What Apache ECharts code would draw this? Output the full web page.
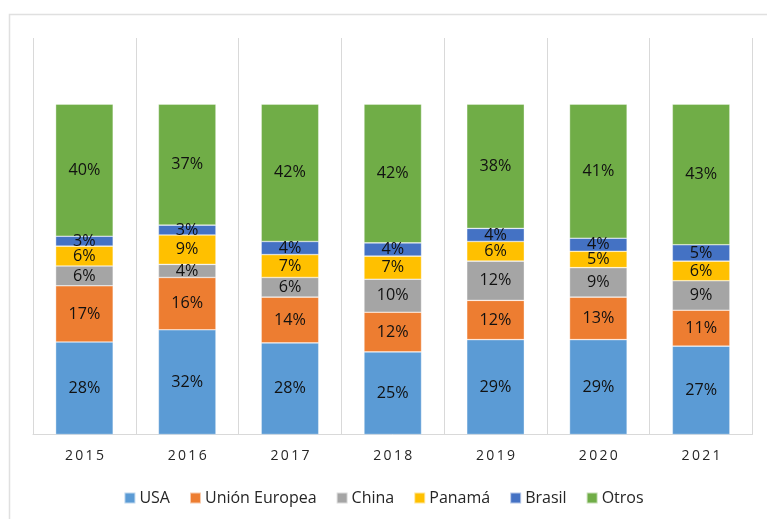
<!DOCTYPE html>
<html>
<head>
<meta charset="utf-8">
<script src="https://cdn.jsdelivr.net/npm/echarts@6/dist/echarts.min.js"></script>
<style>html,body{margin:0;padding:0;background:#fff}#c{width:767px;height:519px}</style>
</head>
<body>
<div id="c"></div>
<script>
const years = ['2015','2016','2017','2018','2019','2020','2021'];
const seriesNames = ['USA','Unión Europea','China','Panamá','Brasil','Otros'];
const usa     = [28, 32, 28, 25, 29, 29, 27];
const ue      = [17, 16, 14, 12, 12, 13, 11];
const china   = [6, 4, 6, 10, 12, 9, 9];
const panama  = [6, 9, 7, 7, 6, 5, 6];
const brasil  = [3, 3, 4, 4, 4, 4, 5];
const otros   = [40, 37, 42, 42, 38, 41, 43];
const colors = ['#5B9BD5','#ED7D31','#A5A5A5','#FFC000','#4472C4','#70AD47'];

const raw = [usa, ue, china, panama, brasil, otros];
const totals = years.map((_, i) => raw.reduce((s, a) => s + a[i], 0));

const chart = echarts.init(document.getElementById('c'));
chart.setOption({
  animation: false,
  graphic: [{
    type: 'rect', shape: {x: 9.5, y: 14.5, width: 800, height: 600},
    style: {fill: 'none', stroke: '#e0e0e0', lineWidth: 1.5}, silent: true
  }],
  grid: {left: 33, right: 14.5, top: 38, bottom: 84.5},
  legend: {
    data: seriesNames, bottom: 8, left: 'center', itemWidth: 11, itemHeight: 11,
    itemGap: 19, icon: 'rect',
    textStyle: {fontFamily: 'Open Sans', fontSize: 16, color: '#262626', padding: [0,0,0,-1]}
  },
  xAxis: {
    type: 'category', data: years,
    axisLine: {lineStyle: {color: '#d9d9d9', width: 1}},
    axisTick: {show: false},
    splitLine: {show: true, lineStyle: {color: '#d9d9d9', width: 1}},
    axisLabel: {
      margin: 15, fontFamily: 'Open Sans', fontSize: 14, color: '#262626',
      formatter: v => v.split('').join('\u2006')
    }
  },
  yAxis: {type: 'value', min: 0, max: 120, show: false, splitLine: {show: false}},
  series: raw.map((arr, k) => ({
    name: seriesNames[k], type: 'bar', stack: 'total', barWidth: '56%',
    data: arr.map((v, i) => v / totals[i] * 100),
    itemStyle: {color: colors[k], borderColor: 'rgba(255,255,255,0.6)', borderWidth: 0.6},
    label: {
      show: true, position: 'inside', fontFamily: 'Open Sans', fontSize: 16.2, color: '#111',
      formatter: p => arr[p.dataIndex] + '%'
    }
  }))
});
</script>
</body>
</html>
